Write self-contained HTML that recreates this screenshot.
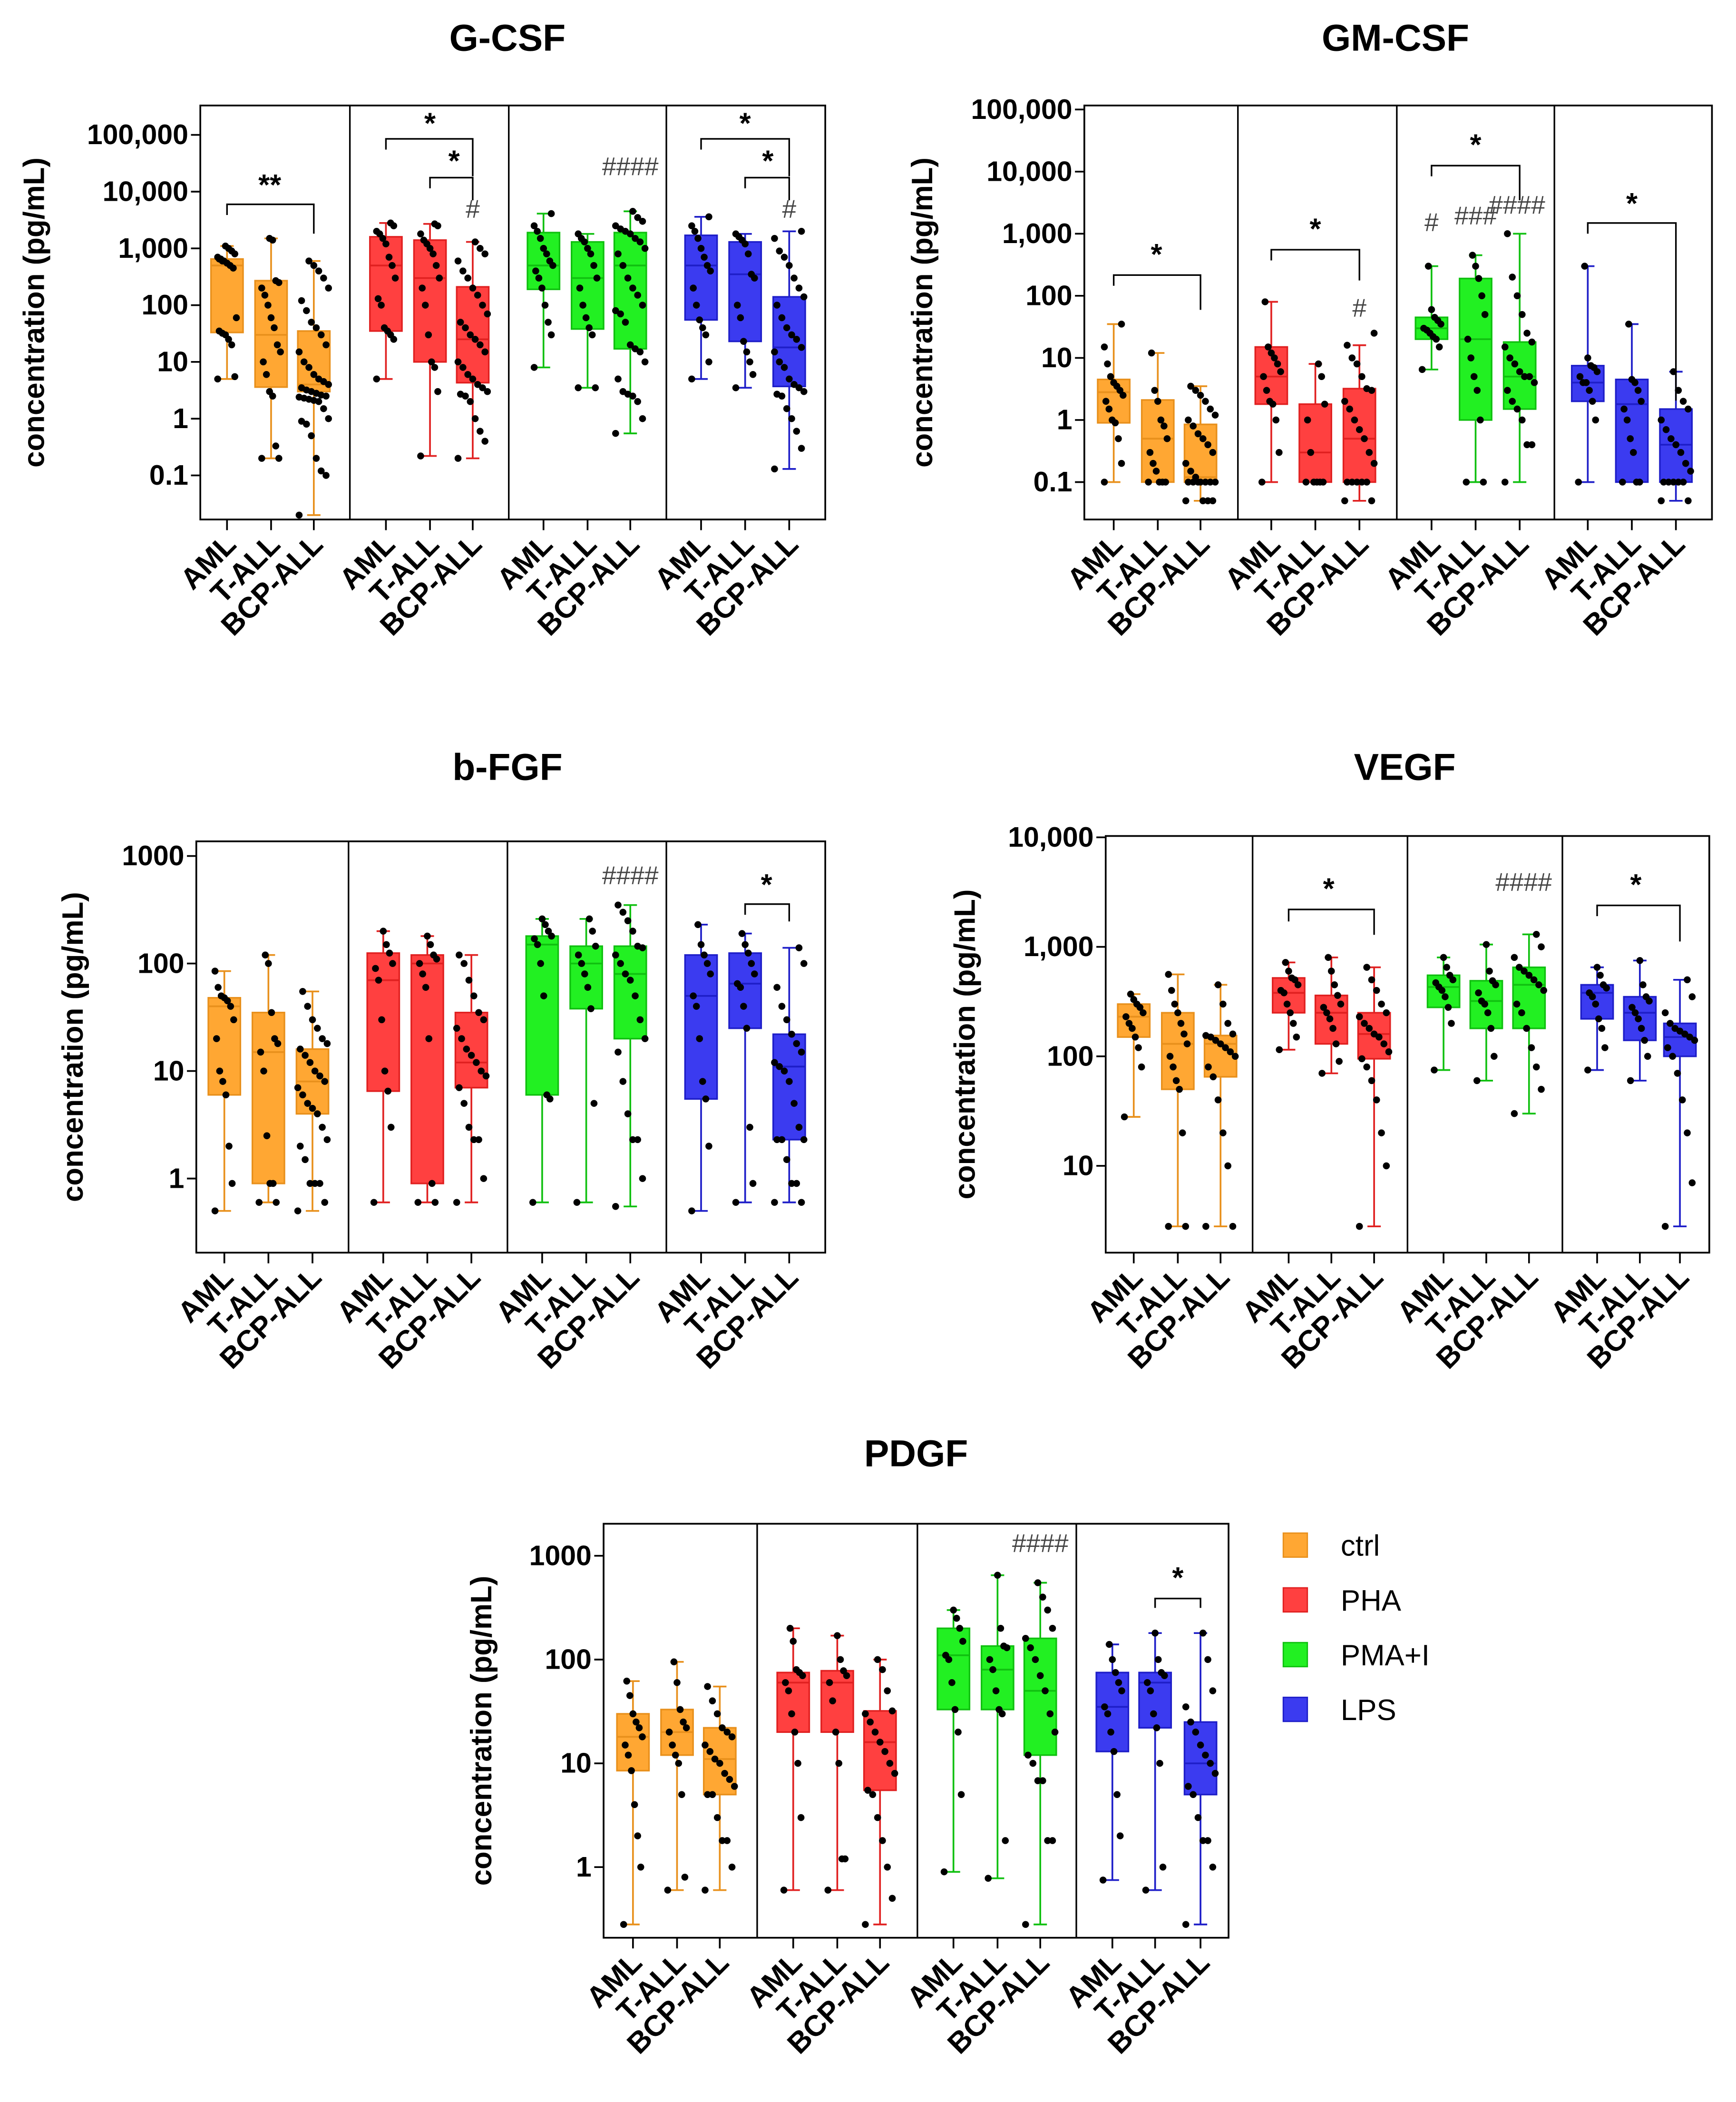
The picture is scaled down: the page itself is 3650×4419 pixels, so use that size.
<!DOCTYPE html>
<html><head><meta charset="utf-8"><style>
html,body{margin:0;padding:0;background:#fff;}
svg{display:block;font-family:"Liberation Sans",Arial,sans-serif;}
</style></head>
<body>
<svg id="fig" width="3650" height="4419" viewBox="0 0 1300 1574" preserveAspectRatio="none" xmlns="http://www.w3.org/2000/svg">
<rect x="0" y="0" width="1300" height="1574" fill="#fff"/>
<g>
<rect x="961" y="1148" width="18" height="18" fill="#FFA733" stroke="#E8901C"/>
<text x="1004" y="1165" font-size="22">ctrl</text>
<rect x="961" y="1189" width="18" height="18" fill="#FF4040" stroke="#E02020"/>
<text x="1004" y="1206" font-size="22">PHA</text>
<rect x="961" y="1230" width="18" height="18" fill="#22F022" stroke="#10C010"/>
<text x="1004" y="1247" font-size="22">PMA+I</text>
<rect x="961" y="1271" width="18" height="18" fill="#3B3BF0" stroke="#1E1EC8"/>
<text x="1004" y="1288" font-size="22">LPS</text>
</g>
</svg>
<script>
// ===== DATA =====
const categories = ["AML","T-ALL","BCP-ALL"];
const stimuli = ["ctrl","PHA","PMA+I","LPS"];
// box stats: [min, q1, median, q3, max] per stimulus (4) x category (3)
const gcsfBoxes = [
 [[5,33,500,650,1100],[0.2,3.6,30,270,1500],[0.02,3,4,35,600]],
 [[5,35,500,1600,2800],[0.22,10,300,1400,2700],[0.2,4.3,25,210,1300]],
 [[8,190,500,1900,4100],[3.5,38,300,1300,1800],[0.55,17,500,1900,4500]],
 [[5,55,500,1700,3600],[3.5,23,350,1300,1800],[0.13,3.7,18,140,2000]]];
const gcsfDots = [
 [[5,5.5,20,25,30,32,35,60,450,500,550,600,650,700,800,900,1000,1100,600,650],[0.2,0.2,0.33,2.5,3,6,10,15,20,40,60,100,150,200,250,270,1400,1500],[0.02,0.1,0.12,0.2,0.5,0.8,0.9,1,1.5,2,2.1,2.2,2.3,2.4,2.5,2.6,2.8,3,3.2,3.5,4,4.5,5,6,8,10,15,20,30,40,50,80,120,200,300,400,500,600]],
 [[5,25,30,35,40,100,130,300,500,700,1200,1500,1800,2000,2500,2800],[0.22,3,8,10,30,100,200,300,500,800,1000,1200,1400,1800,2500,2700],[0.2,0.4,0.6,1,2,2.5,2.7,3,3.5,4,5,6,8,10,15,20,25,30,40,50,70,100,150,200,300,400,600,800,1000,1300]],
 [[8,30,50,100,200,300,400,500,600,800,1000,1500,2000,2500,4100],[3.5,3.5,30,40,60,100,200,300,500,800,1000,1300,1500,1800],[0.55,1,2,2.5,2.7,3,5,10,15,17,20,50,70,80,100,150,200,300,500,800,1000,1300,1500,1800,2000,2200,2500,3000,3500,4500]],
 [[5,10,30,40,55,100,200,400,500,700,1000,1500,2000,2500,3600],[3.5,6,10,15,23,60,100,300,350,800,1200,1400,1600,1800],[0.13,0.3,0.6,1,1.5,2.5,2.7,3,3.5,4,5,8,10,15,18,25,30,40,60,100,140,200,300,500,700,900,1500,2000]]];
const gcsfTicks = [100000,10000,1000,100,10,1,0.1];
const gcsfTickLabels = ["100,000","10,000","1,000","100","10","1","0.1"];

const gmcsfBoxes = [
 [[0.1,0.9,2.8,4.5,35],[0.1,0.1,0.5,2.1,12],[0.05,0.1,0.12,0.85,3.5]],
 [[0.1,1.8,5,15,80],[0.1,0.1,0.3,1.8,8],[0.05,0.1,0.5,3.2,16]],
 [[6.5,20,30,45,300],[0.1,1,20,190,450],[0.1,1.5,5,18,1000]],
 [[0.1,2,4,7.5,300],[0.1,0.1,1.8,4.5,35],[0.05,0.1,0.4,1.5,6]]];
const gmcsfDots = [
 [[0.1,0.2,0.5,0.9,1,1.5,2,2.5,3,3.5,4,5,8,15,35],[0.1,0.1,0.1,0.1,0.15,0.2,0.3,0.5,0.8,1,2,3,12],[0.05,0.05,0.05,0.05,0.1,0.1,0.1,0.1,0.1,0.1,0.1,0.12,0.15,0.2,0.3,0.4,0.5,0.6,0.8,1,1.2,1.5,2,2.5,3,3.5]],
 [[0.1,0.3,1,1.8,2,3,5,6,8,10,12,15,80],[0.1,0.1,0.1,0.1,0.1,0.3,1,1.8,5,8],[0.05,0.05,0.1,0.1,0.1,0.1,0.1,0.2,0.3,0.5,0.7,1,1.5,2,3,3.2,5,8,10,16,25]],
 [[6.5,15,20,22,25,28,30,35,40,45,60,300],[0.1,0.1,1,3,5,10,20,50,100,190,300,450],[0.1,0.4,0.4,1,1.5,2,3,4,5,5,6,8,10,15,18,25,50,100,200,1000]],
 [[0.1,1,2,3,4,4,5,6,7,7.5,10,300],[0.1,0.1,0.1,0.3,0.5,1,1.5,2,3,4,4.5,35],[0.05,0.05,0.1,0.1,0.1,0.1,0.1,0.15,0.2,0.3,0.4,0.5,0.7,1,1.5,2,3,6]]];
const gmcsfTicks = [100000,10000,1000,100,10,1,0.1];
const gmcsfTickLabels = ["100,000","10,000","1,000","100","10","1","0.1"];

const bfgfBoxes = [
 [[0.5,6,40,48,85],[0.6,0.9,15,35,120],[0.5,4,8,16,55]],
 [[0.6,6.5,70,125,200],[0.6,0.9,100,120,180],[0.6,7,12,35,120]],
 [[0.6,6,150,180,260],[0.6,38,100,145,260],[0.55,20,80,145,350]],
 [[0.5,5.5,50,120,230],[0.6,25,65,125,190],[0.6,2.3,11,22,140]]];
const bfgfDots = [
 [[0.5,0.9,2,6,8,10,20,30,40,45,48,50,60,85],[0.6,0.6,0.9,0.9,2.5,10,15,18,20,35,100,120],[0.5,0.6,0.9,0.9,0.9,1.5,2,2.3,3,4,4.5,5,6,7,8,9,10,12,14,16,18,20,25,30,40,55]],
 [[0.6,3,6.5,10,30,70,90,100,125,150,200],[0.6,0.6,0.9,20,60,80,100,110,120,150,180],[0.6,1,2.3,2.3,3,5,7,9,10,12,14,16,20,25,30,35,50,70,100,120]],
 [[0.6,5.5,6,50,100,150,170,180,200,230,260],[0.6,5,38,60,80,100,120,145,200,260],[0.55,1,2.3,2.3,4,8,15,20,30,50,70,80,100,120,140,145,200,250,300,350]],
 [[0.5,2,5.5,8,20,40,50,80,100,120,150,230],[0.6,0.9,3,25,40,60,65,80,100,125,150,190],[0.6,0.6,0.9,0.9,1.5,2.3,2.3,2.3,3,5,8,10,11,12,15,18,22,30,40,60,100,140]]];
const bfgfTicks = [1000,100,10,1];
const bfgfTickLabels = ["1000","100","10","1"];

const vegfBoxes = [
 [[28,150,230,300,370],[2.8,50,130,250,560],[2.8,65,130,155,450]],
 [[115,250,380,520,720],[70,130,250,360,800],[2.8,95,160,250,650]],
 [[75,280,430,550,800],[60,180,320,490,1050],[30,180,450,650,1300]],
 [[75,220,380,450,650],[60,140,250,350,750],[2.8,100,150,200,500]]];
const vegfDots = [
 [[28,80,120,150,180,200,230,250,280,300,330,370],[2.8,2.8,20,50,60,80,100,130,160,200,250,300,400,560],[2.8,2.8,10,20,40,65,80,100,110,120,130,140,150,155,160,200,300,450]],
 [[115,150,200,250,300,380,400,450,500,520,600,720],[70,90,130,180,220,250,280,300,360,450,600,800],[2.8,10,20,40,60,80,95,110,130,150,160,180,200,230,250,300,400,500,650]],
 [[75,200,280,350,400,430,470,500,550,650,800],[60,100,180,250,300,320,380,450,490,600,1050],[30,50,80,120,180,250,300,400,450,500,550,600,650,800,1000,1300]],
 [[75,120,180,220,300,350,380,420,450,550,650],[60,100,140,180,220,250,280,320,350,450,750],[2.8,7,20,40,70,100,120,140,150,160,170,180,200,250,350,500]]];
const vegfTicks = [10000,1000,100,10];
const vegfTickLabels = ["10,000","1,000","100","10"];

const pdgfBoxes = [
 [[0.28,8.5,18,30,62],[0.6,12,20,33,95],[0.6,5,11,22,55]],
 [[0.6,20,60,75,200],[0.6,20,60,78,170],[0.28,5.5,16,32,100]],
 [[0.9,33,110,200,300],[0.78,33,80,135,650],[0.28,12,50,160,550]],
 [[0.75,13,35,75,140],[0.6,22,60,75,180],[0.28,5,10,25,180]]];
const pdgfDots = [
 [[0.28,1,2,4,8.5,12,15,18,22,25,30,45,62],[0.6,0.8,5,10,12,15,20,22,25,33,60,95],[0.6,1,1.8,1.8,3,5,5,6,7,8,10,11,13,15,18,20,22,30,40,55]],
 [[0.6,3,10,20,30,50,60,70,75,80,150,200],[0.6,1.2,1.2,10,20,40,60,70,78,100,170],[0.28,0.5,1,1.8,3,5,5.5,8,10,13,16,20,25,30,32,50,80,100]],
 [[0.9,5,20,33,60,100,110,150,200,250,300],[0.78,1.8,30,33,50,80,100,130,135,200,650],[0.28,1.8,1.8,6.8,6.8,10,12,20,30,50,70,100,130,160,200,300,400,550]],
 [[0.75,2,5,13,20,30,35,50,60,75,100,140],[0.6,1,10,22,30,50,60,70,75,100,180],[0.28,1,1.8,1.8,3,5,6,8,10,12,15,20,25,35,50,100,180]]];
const pdgfTicks = [1000,100,10,1];
const pdgfTickLabels = ["1000","100","10","1"];

// ===== RENDER =====
const NS="http://www.w3.org/2000/svg";
const svg=document.getElementById('fig');
const fills=["#FFA733","#FF4040","#22F022","#3B3BF0"];
const strokes=["#E8901C","#E02020","#10C010","#1E1EC8"];
function mk(tag,attrs,parent){const e=document.createElementNS(NS,tag);for(const k in attrs)e.setAttribute(k,attrs[k]);(parent||svg).appendChild(e);return e;}

function panel(cfg){
  const g=mk('g',{});
  
  
  const y=v=>cfg.y0-(Math.log10(v)-Math.log10(cfg.v0))*cfg.dec;
  const t=mk('text',{x:cfg.tx,y:cfg.ty,'font-size':28,'font-weight':'bold','text-anchor':'middle'},g);
  t.textContent=cfg.title;
  
  
  const f=cfg.frame;
  const fr=mk('rect',{x:f[0],y:f[1],width:f[2]-f[0],height:f[3]-f[1],fill:'none',stroke:'#000','stroke-width':1.3},g);
  
  
  cfg.dividers.forEach(d=>{const l=mk('line',{x1:d,x2:d,y1:f[1],y2:f[3],stroke:'#000','stroke-width':1.2},g);
    
    });
  cfg.ticks.forEach((v,i)=>{
    const yy=y(v);
    const l=mk('line',{x1:f[0]-7,x2:f[0],y1:yy,y2:yy,stroke:'#000','stroke-width':1.3},g);
    
    
    const tl=mk('text',{x:f[0]-9,y:yy+7,'font-size':21,'font-weight':'bold','text-anchor':'end'},g);
    tl.textContent=cfg.tickLabels[i];
    
    
  });
  const yt=mk('text',{x:0,y:0,'font-size':22,'font-weight':'bold','text-anchor':'middle',transform:`translate(${cfg.yx},${(f[1]+f[3])/2}) rotate(-90)`},g);
  yt.textContent="concentration (pg/mL)";
  
  
  for(let s=0;s<4;s++){for(let c=0;c<3;c++){
    const x=cfg.xs[s][c];
    const b=cfg.boxes[s][c];
    const bg=mk('g',{},g);
    
    
    const w=12,cw=5;
    mk('line',{x1:x,x2:x,y1:y(b[0]),y2:y(b[4]),stroke:strokes[s],'stroke-width':1.3},bg);
    mk('line',{x1:x-cw,x2:x+cw,y1:y(b[0]),y2:y(b[0]),stroke:strokes[s],'stroke-width':1.3},bg);
    mk('line',{x1:x-cw,x2:x+cw,y1:y(b[4]),y2:y(b[4]),stroke:strokes[s],'stroke-width':1.3},bg);
    mk('rect',{x:x-w,y:y(b[3]),width:2*w,height:Math.max(0.5,y(b[1])-y(b[3])),fill:fills[s],stroke:strokes[s],'stroke-width':1.2},bg);
    mk('line',{x1:x-w,x2:x+w,y1:y(b[2]),y2:y(b[2]),stroke:strokes[s],'stroke-width':1.3},bg);
    const dots=cfg.dots[s][c];
    const spread=c===2?11:7;
    dots.forEach((v,i)=>{
      const off=(((i*37)%13)-6)/6*spread;
      const d=mk('circle',{cx:x+off,cy:y(v),r:2.6,fill:'#000'},bg);
      
      
    });
    const tk=mk('line',{x1:x,x2:x,y1:f[3],y2:f[3]+8,stroke:'#000','stroke-width':1.3},g);
    
    
    const xl=mk('text',{x:0,y:0,'font-size':22,'font-weight':'bold','text-anchor':'end',transform:`translate(${x+8},${f[3]+20}) rotate(-45)`},g);
    xl.textContent=categories[c];
    
    
  }}
  (cfg.brackets||[]).forEach(br=>{
    const p=mk('path',{d:`M${br[0]},${br[3]} L${br[0]},${br[2]} L${br[1]},${br[2]} L${br[1]},${br[4]}`,fill:'none',stroke:'#000','stroke-width':1.2},g);
    
    
  });
  (cfg.marks||[]).forEach(m=>{
    const tx=mk('text',{x:m[0],y:m[1],'font-size':m[3]||22,'font-weight':m[2][0]==='*'?'bold':'normal','text-anchor':'middle',fill:m[2][0]==='#'?'#444':'#000'},g);
    tx.textContent=m[2];
    
    
  });
}

panel({id:'g-csf',title:'G-CSF',tx:380,ty:38,frame:[150,79,618,389],y0:101,v0:100000,dec:42.5,yx:33,
  dividers:[262,381,499],xs:[[170,203,235],[289,322,354],[407,440,472],[525,558,591]],
  boxes:gcsfBoxes,dots:gcsfDots,ticks:gcsfTicks,tickLabels:gcsfTickLabels,
  brackets:[[170,235,153,161,175],[289,354,104,112,132],[322,354,133,141,150],[525,591,104,112,132],[558,591,133,141,150]],
  marks:[[202,146,'**'],[322,100,'*'],[340,128,'*'],[354,163,'#',19],[472,131,'####',19],[558,100,'*'],[575,128,'*'],[591,163,'#',19]]});
panel({id:'gm-csf',title:'GM-CSF',tx:1045,ty:38,frame:[812,79,1282,389],y0:82,v0:100000,dec:46.5,yx:698,
  dividers:[927,1046,1164],xs:[[834,867,899],[952,985,1018],[1072,1105,1138],[1189,1222,1255]],
  boxes:gmcsfBoxes,dots:gmcsfDots,ticks:gmcsfTicks,tickLabels:gmcsfTickLabels,
  brackets:[[834,899,206,214,232],[952,1018,187,195,210],[1072,1138,124,132,150],[1189,1255,167,175,300]],
  marks:[[866,198,'*'],[985,179,'*'],[1018,237,'#',19],[1105,116,'*'],[1072,173,'#',19],[1105,168,'###',19],[1136,160,'####',19],[1222,160,'*']]});
panel({id:'b-fgf',title:'b-FGF',tx:380,ty:584,frame:[147,630,618,938],y0:641,v0:1000,dec:80.5,yx:62,
  dividers:[261,380,499],xs:[[168,201,234],[287,320,353],[406,439,472],[525,558,591]],
  boxes:bfgfBoxes,dots:bfgfDots,ticks:bfgfTicks,tickLabels:bfgfTickLabels,
  brackets:[[558,591,677,685,690]],
  marks:[[472,662,'####',19],[574,670,'*']]});
panel({id:'vegf',title:'VEGF',tx:1052,ty:584,frame:[828,626,1280,938],y0:627,v0:10000,dec:82,yx:730,
  dividers:[938,1054,1170],xs:[[849,882,914],[965,997,1029],[1081,1113,1145],[1196,1228,1258]],
  boxes:vegfBoxes,dots:vegfDots,ticks:vegfTicks,tickLabels:vegfTickLabels,
  brackets:[[965,1029,681,690,700],[1196,1258,678,686,705]],
  marks:[[995,673,'*'],[1141,667,'####',19],[1225,670,'*']]});
panel({id:'pdgf',title:'PDGF',tx:686,ty:1098,frame:[452,1141,920,1451],y0:1165,v0:1000,dec:77.7,yx:368,
  dividers:[567,687,806],xs:[[474,507,539],[594,627,659],[714,747,779],[833,865,899]],
  boxes:pdgfBoxes,dots:pdgfDots,ticks:pdgfTicks,tickLabels:pdgfTickLabels,
  brackets:[[865,899,1197,1204,1204]],
  marks:[[779,1162,'####',19],[882,1189,'*']]});
</script>
</body></html>
